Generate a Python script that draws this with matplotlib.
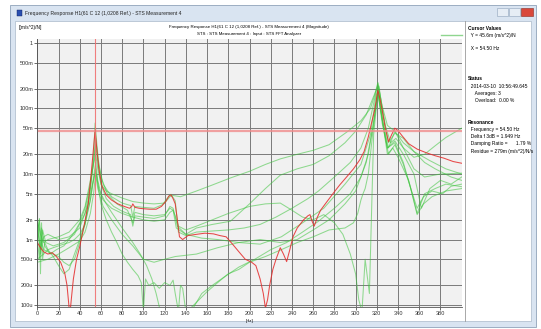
import matplotlib
matplotlib.use("Agg")
import matplotlib.pyplot as plt
from matplotlib.patches import Rectangle
from matplotlib.ticker import FixedLocator, NullLocator

# Kurven (Frequenz in Hz, Betrag in m(m/s^2)/N)
red_f = [0, 3, 6, 10, 14, 18, 22, 26, 28, 30, 31, 32, 34, 37, 40, 44, 48, 51, 53, 54.5,
         56, 58, 61, 65, 70, 76, 82, 87, 89, 90, 92, 96, 100, 106, 112, 117, 121, 124, 126, 128,
         130, 132, 134, 137, 142, 150, 158, 166, 172, 178, 184, 190, 196, 202, 206, 210, 213, 215, 217, 219,
         222, 225, 229, 232, 235, 238, 241, 245, 251, 255, 257, 259, 261, 264, 267, 272, 279, 285, 292, 298,
         304, 308, 312, 315, 318, 321, 323, 325, 328, 331, 334, 337, 340, 344, 350, 358, 367, 375, 383, 392, 400]
red_v = [0.9, 0.75, 0.65, 0.6, 0.63, 0.55, 0.45, 0.3, 0.2, 0.09, 0.08, 0.12, 0.25, 0.5, 0.78, 1.6, 3.5, 11, 25, 46,
         25, 12, 6.5, 4.8, 4.0, 3.5, 3.2, 3.0, 3.2, 3.5, 3.1, 3.0, 2.95, 2.9, 2.9, 3.2, 3.8, 4.6, 4.8, 4.2,
         3.5, 2.0, 1.1, 1.0, 1.15, 1.2, 1.25, 1.22, 1.15, 1.1, 0.85, 0.65, 0.5, 0.45, 0.4, 0.25, 0.15, 0.09, 0.12, 0.2,
         0.35, 0.5, 0.75, 0.6, 0.46, 0.7, 1.1, 1.5, 2.0, 2.3, 2.4, 1.9, 1.6, 2.2, 2.8, 3.6, 5.1, 6.8, 9.2, 12,
         16.5, 22, 37, 60, 95, 190, 140, 95, 50, 31, 40, 50, 46, 38, 29, 24, 21, 19, 17.5, 15.5, 14.6]

g1_f = [0, 2, 4, 6, 10, 15, 20, 25, 30, 35, 40, 45, 50, 53, 54.5, 56, 58, 62, 70, 80,
        88, 90, 92, 100, 110, 118, 124, 126, 130, 133, 140, 150, 165, 180, 195, 210, 225, 240, 255, 265,
        280, 295, 305, 312, 317, 321, 325, 330, 337, 345, 355, 370, 385, 400]
g1_v = [1.2, 2.0, 0.9, 0.7, 0.65, 0.6, 0.55, 0.45, 0.4, 0.5, 0.9, 1.7, 6, 20, 60, 30, 14, 7, 4.5, 3.6,
        3.3, 2.2, 3.2, 3.1, 3.0, 3.4, 4.6, 4.9, 3.9, 1.3, 1.15, 1.3, 1.35, 1.4, 1.5, 1.7, 2.2, 3.0, 4.2, 5.5,
        9, 15, 25, 50, 120, 240, 110, 55, 45, 30, 22, 16, 12, 10]

g2_f = [0, 2, 4, 7, 12, 18, 25, 30, 35, 40, 45, 50, 53, 55, 57, 60, 65, 72, 80, 88,
        90, 92, 100, 110, 120, 125, 128, 132, 140, 155, 170, 190, 210, 230, 250, 270, 290, 305, 314, 319,
        322, 326, 331, 337, 345, 355, 365, 375, 390, 400]
g2_v = [1.0, 0.5, 1.5, 0.8, 0.6, 0.7, 0.8, 1.0, 1.3, 1.8, 3, 7, 15, 28, 15, 7, 4.2, 3.2, 2.7, 2.4,
        1.6, 2.3, 2.2, 2.1, 2.3, 3.2, 3.0, 1.6, 1.2, 1.05, 1.0, 0.9, 0.85, 1.1, 1.8, 3.0, 7, 14, 40, 150,
        220, 80, 30, 42, 35, 22, 15, 12, 9, 8]

g3_f = [0, 3, 6, 10, 20, 30, 40, 45, 50, 53, 55, 57, 60, 65, 70, 80, 90, 100, 110, 120,
        125, 128, 135, 150, 165, 182, 200, 215, 229, 245, 260, 275, 292, 305, 314, 318, 321, 324, 328, 333,
        338, 345, 355, 365, 375, 385, 400]
g3_v = [2.0, 1.2, 0.9, 1.0, 1.1, 1.3, 2.0, 3.2, 8, 14, 20, 12, 7, 5.5, 5, 4.3, 3.8, 3.6, 3.5, 3.6,
        4.5, 4.7, 4.5, 5.5, 6.8, 8.7, 11, 14, 17, 20, 23, 28, 44, 65, 100, 160, 250, 130, 55, 30,
        35, 25, 18, 20, 27, 36, 50]

g4_f = [0, 3, 6, 10, 15, 20, 25, 30, 35, 40, 45, 50, 53, 55, 57, 60, 65, 70, 80, 90,
        97, 103, 108, 112, 116, 145, 155, 165, 175, 190, 205, 220, 235, 250, 265, 280, 295, 305, 312, 317,
        321, 325, 330, 335, 340, 350, 358, 365, 375, 385, 400]
g4_v = [0.5, 0.55, 0.6, 0.7, 0.75, 0.8, 0.85, 0.9, 1.0, 1.2, 1.7, 4, 9, 15, 8, 5, 3.5, 2.6, 1.5, 0.9,
        0.6, 0.4, 0.25, 0.15, 0.08, 0.08, 0.15, 0.2, 0.26, 0.38, 0.5, 0.7, 0.9, 1.3, 1.9, 3, 5, 9, 20, 60,
        200, 70, 20, 25, 18, 8, 2.5, 5, 6, 7, 6.4]

g5_f = [0, 2, 3, 4, 5, 7, 10, 15, 20, 25, 30, 35, 40, 45, 50, 53, 55, 57, 60, 65,
        70, 75, 80, 85, 90, 95, 98, 100, 102, 105, 110, 115, 120, 125, 128, 130, 133, 135, 137, 140,
        143, 150, 160, 170, 180, 190, 200, 215, 230, 245, 260, 275, 290, 298, 302, 305, 307, 309, 312, 316,
        321, 325, 330, 337, 345, 352, 358, 364, 372, 382, 390, 400]
g5_v = [0.8, 2.1, 0.3, 1.8, 0.5, 0.9, 0.7, 0.55, 0.4, 0.3, 0.35, 0.6, 1.0, 1.8, 4, 8, 12, 7, 3.5, 2.0,
        1.3, 0.9, 0.6, 0.45, 0.35, 0.28, 0.22, 0.08, 0.25, 0.2, 0.22, 0.18, 0.22, 0.2, 0.24, 0.15, 0.08, 0.2, 0.18, 0.08,
        0.085, 0.11, 0.16, 0.22, 0.3, 0.35, 0.45, 0.55, 0.7, 0.9, 1.1, 1.4, 1.5, 1.8, 2.5, 4, 5, 6, 10, 40,
        180, 60, 25, 30, 15, 6, 3, 4.5, 5.5, 5, 6.5, 7]

g6_f = [0, 3, 6, 10, 20, 30, 40, 48, 52, 55, 58, 62, 70, 80, 90, 100, 110, 120, 125, 128,
        130, 133, 140, 150, 165, 180, 200, 215, 229, 240, 250, 260, 270, 280, 288, 295, 300, 303, 306, 309,
        313, 317, 321, 325, 330, 337, 345, 355, 362, 370, 380, 390, 400]
g6_v = [1.5, 0.7, 1.1, 1.2, 1.0, 1.1, 1.5, 3.5, 7, 11, 6, 4, 3, 2.5, 2.2, 2.0, 1.9, 2.0, 2.6, 2.8,
        2.3, 1.6, 1.4, 1.6, 2.0, 2.5, 3.2, 3.5, 3.6, 2.8, 2.2, 2.0, 2.4, 1.8, 1.2, 0.6, 0.3, 0.12, 0.08, 0.5,
        0.15, 40, 180, 70, 25, 32, 20, 10, 3, 6, 8, 7, 9]

g7_f = [0, 3, 5, 8, 15, 25, 35, 45, 50, 53, 55, 57, 60, 66, 75, 85, 90, 92, 100, 110,
        120, 125, 128, 131, 140, 150, 165, 182, 200, 215, 229, 245, 260, 275, 290, 300, 310, 316, 321, 326,
        331, 337, 345, 355, 365, 380, 400]
g7_v = [1.8, 0.6, 1.4, 0.9, 0.8, 0.9, 1.2, 2.5, 6, 15, 35, 18, 9, 5, 3.5, 2.8, 1.8, 2.6, 2.4, 2.3,
        2.4, 3.0, 2.8, 1.5, 1.2, 1.5, 1.7, 1.9, 3.5, 6, 9.6, 12, 14, 19, 30, 45, 80, 140, 220, 60,
        25, 45, 25, 12, 9, 10, 10.3]

g8_f = [0, 10, 20, 30, 40, 45, 50, 53, 55, 57, 62, 70, 80, 90, 100, 110, 120, 130, 150, 170,
        190, 210, 229, 245, 260, 275, 290, 300, 310, 316, 321, 326, 331, 337, 345, 352, 358, 364, 372, 385, 400]
g8_v = [0.45, 0.5, 0.6, 0.75, 0.95, 1.3, 2.5, 5, 10, 6, 3.2, 2.0, 1.2, 0.8, 0.5, 0.45, 0.5, 0.55, 0.6, 0.75,
        0.9, 1.0, 0.9, 1.0, 1.4, 2.0, 3.5, 5.5, 15, 50, 170, 55, 20, 28, 14, 6, 2.4, 3.5, 4.5, 5.5, 6]

y_ticks = [1, 0.5, 0.2, 0.1, 0.05, 0.02, 0.01, 0.005, 0.002, 0.001, 0.0005, 0.0002, 0.0001]
y_labels = ["1", "500m", "200m", "100m", "50m", "20m", "10m", "5m", "2m", "1m", "500u", "200u", "100u"]
x_ticks = list(range(0, 400, 20))
cursor_x = 54.5
cursor_y = 0.0456

plt.rcParams['font.family'] = ['Liberation Sans', 'DejaVu Sans']

W, H = 541, 329
fig = plt.figure(figsize=(W / 100, H / 100), dpi=100)

# Fensterrahmen im Pixelraster
bg = fig.add_axes([0, 0, 1, 1])
bg.set_xlim(0, W)
bg.set_ylim(H, 0)
bg.axis('off')
bg.add_patch(Rectangle((10, 5), 526, 322, facecolor='#d9e4f1', edgecolor='#8fa3ba', lw=0.6))
bg.add_patch(Rectangle((15, 21), 516, 300, facecolor='white', edgecolor='#a9b8c9', lw=0.5))
bg.add_patch(Rectangle((17, 10), 5, 6, facecolor='#2a4fb0', edgecolor='#102060', lw=0.3))
bg.text(25, 13.5, "Frequency Response H1(61 C 12 (1,0208 Ref.) - STS Measurement 4",
        fontsize=3.6, va='center', ha='left', color='#222222')
bg.add_patch(Rectangle((497, 8), 11, 8, facecolor='#e6edf5', edgecolor='#8fa3ba', lw=0.4))
bg.add_patch(Rectangle((509, 8), 11, 8, facecolor='#e6edf5', edgecolor='#8fa3ba', lw=0.4))
bg.add_patch(Rectangle((521, 8), 12, 8, facecolor='#d9483b', edgecolor='#8a2a20', lw=0.4))
bg.plot([465, 465], [21, 321], color='#9a9a9a', lw=0.6)

bg.text(19, 28, "[(m/s^2)/N]", fontsize=3.4, va='center', ha='left')
bg.text(249, 27, "Frequency Response H1(61 C 12 (1,0208 Ref.) - STS Measurement 4 (Magnitude)",
        fontsize=3.2, va='center', ha='center')
bg.text(249, 34.5, "STS : STS Measurement 4 : Input : STS FFT Analyzer",
        fontsize=3.2, va='center', ha='center')
bg.plot([441, 462], [34.5, 34.5], color='#8fd68f', lw=1.0)

panel = [
    (28, "Cursor Values", True),
    (35, "  Y = 45.6m (m/s^2)/N", False),
    (48, "  X = 54.50 Hz", False),
    (79, "Status", True),
    (87, "  2014-03-10  10:56:49.645", False),
    (94, "     Averages: 3", False),
    (101, "     Overload:  0.00 %", False),
    (123, "Resonance", True),
    (130, "  Frequency = 54.50 Hz", False),
    (137, "  Delta f 3dB = 1.949 Hz", False),
    (144, "  Damping Ratio =      1.79 %", False),
    (151, "  Residue = 279m (m/s^2)/N/s", False),
]
for y, s, bold in panel:
    bg.text(468, y, s, fontsize=3.5, va='center', ha='left',
            fontweight='bold' if bold else 'normal')

# Diagramm
x0, x1, y0, y1 = 37.3, 461.7, 39, 306.5
ax = fig.add_axes([x0 / W, 1 - y1 / H, (x1 - x0) / W, (y1 - y0) / H])
ax.set_facecolor('#f1f1f1')
ax.set_yscale('log')
ax.set_xlim(0, 400)
ax.set_ylim(9.5e-5, 1.15)
ax.yaxis.set_major_locator(FixedLocator(y_ticks))
ax.yaxis.set_minor_locator(NullLocator())
ax.set_yticklabels(y_labels)
ax.set_xticks(x_ticks)
ax.grid(True, color='#7a7a7a', lw=0.7)
ax.tick_params(labelsize=4, length=2, width=0.5, pad=1, colors='#333333')
for s in ['top', 'right']:
    ax.spines[s].set_visible(False)
for s in ['left', 'bottom']:
    ax.spines[s].set_color('#555555')
    ax.spines[s].set_linewidth(0.6)
ax.text(0.5, -0.045, "[Hz]", transform=ax.transAxes, fontsize=3.2, ha='center', va='top')

greens = [(g1_f, g1_v), (g2_f, g2_v), (g3_f, g3_v), (g4_f, g4_v),
          (g5_f, g5_v), (g6_f, g6_v), (g7_f, g7_v), (g8_f, g8_v)]
for f, v in greens:
    ax.plot(f, [a * 1e-3 for a in v], color='#3cc43c', alpha=0.55, lw=0.75)
ax.plot(red_f, [a * 1e-3 for a in red_v], color='#e52a2a', alpha=0.85, lw=0.75)

ax.axhline(cursor_y, color='#f08c8c', lw=1.6, alpha=0.8)
ax.axvline(cursor_x, color='#f07070', lw=0.8, alpha=0.9)

fig.savefig("out.png", dpi=100)
